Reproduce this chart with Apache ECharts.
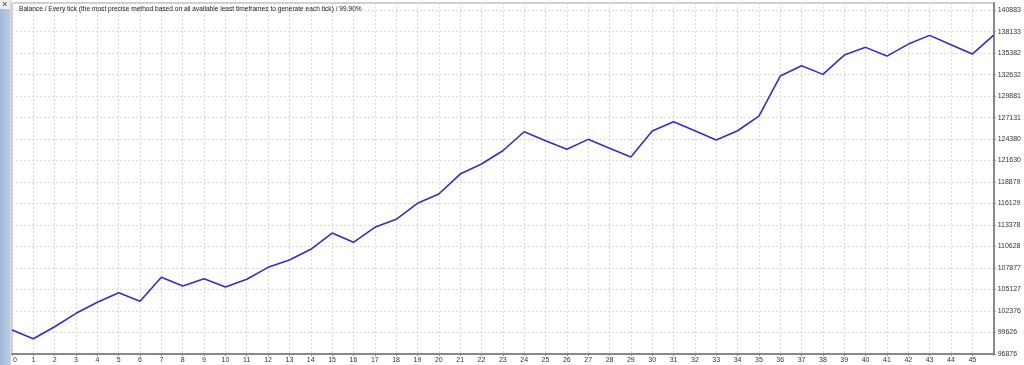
<!DOCTYPE html>
<html>
<head>
<meta charset="utf-8">
<script src="https://cdn.jsdelivr.net/npm/echarts@6/dist/echarts.min.js"></script>
<style>
html,body{margin:0;padding:0;background:#fff;}
#c{width:1024px;height:365px;}
</style>
</head>
<body>
<div id="c"></div>
<script>
// Trade numbers (x categories)
const categories = Array.from({length: 47}, (_, i) => String(i));
// Balance values
const balance = [
  99946, 98833, 100369, 102083, 103490, 104718, 103618, 106688, 105575, 106509,
  105447, 106432, 107967, 108901, 110270, 112356, 111166, 113085, 114108, 116155,
  117345, 119903, 121183, 122884, 125315, 124164, 123064, 124343, 123191, 122078,
  125405, 126594, 125443, 124253, 125443, 127323, 132441, 133759, 132658, 135127,
  136113, 134999, 136534, 137648, 136445, 135255, 137686
];
// Right axis tick labels (bottom to top)
const yTickLabels = [
  '96876', '99626', '102376', '105127', '107877', '110628', '113378', '116129',
  '118879', '121630', '124380', '127131', '129881', '132632', '135382', '138133', '140883'
];
const titleText = 'Balance / Every tick (the most precise method based on all available least timeframes to generate each tick) / 99.90%';

const yMin = Number(yTickLabels[0]);
const yStep = (Number(yTickLabels[yTickLabels.length - 1]) - yMin) / (yTickLabels.length - 1);
const yMax = yMin + yStep * 16.33;

const chart = echarts.init(document.getElementById('c'), null, {renderer: 'canvas'});
const font = 'Liberation Sans, Arial, sans-serif';
chart.setOption({
  animation: false,
  backgroundColor: '#ffffff',
  title: {
    text: titleText,
    left: 14, top: 1,
    textStyle: {fontSize: 6.6, fontWeight: 'normal', color: '#222', fontFamily: font}
  },
  grid: {
    left: 12, right: 28, top: 3, bottom: 11,
    show: true, borderColor: '#9a9a9a', borderWidth: 1, backgroundColor: '#fff'
  },
  graphic: [
    {type: 'rect', shape: {x: 0, y: 0, width: 10, height: 365},
     style: {fill: new echarts.graphic.LinearGradient(0, 0, 1, 0, [
       {offset: 0, color: '#9fb9d8'}, {offset: 1, color: '#b9cde5'}])}, z: 10},
    {type: 'rect', shape: {x: 0, y: 0, width: 10, height: 9}, style: {fill: '#eeeeee'}, z: 11},
    {type: 'text', left: 2, top: 0, style: {text: '×', fontSize: 9, fill: '#333', fontFamily: font}, z: 12},
    {type: 'rect', shape: {x: 10, y: 0, width: 1, height: 365}, style: {fill: '#d8d8d8'}, z: 10}
  ],
  xAxis: {
    type: 'category',
    data: categories,
    boundaryGap: false,
    axisLine: {show: true, lineStyle: {color: '#888', width: 2}},
    axisTick: {show: true, length: 2, lineStyle: {color: '#888'}, interval: 0},
    axisLabel: {
      interval: 0, fontSize: 7, color: '#333', fontFamily: font, margin: 3,
      formatter: (v, i) => (i === categories.length - 1 ? '' : (i === 0 ? '{first|' + v + '}' : v)),
      rich: {first: {fontSize: 7, color: '#333', fontFamily: font, padding: [0, 0, 0, 6]}}
    },
    splitLine: {show: true, interval: 0, lineStyle: {color: '#dcdcdc', type: [2, 2], width: 1}}
  },
  yAxis: {
    type: 'value',
    position: 'right',
    min: yMin, max: yMax, interval: yStep,
    axisLine: {show: true, lineStyle: {color: '#888', width: 2}},
    axisTick: {show: true, length: 2, lineStyle: {color: '#888'}},
    axisLabel: {
      fontSize: 7, color: '#333', fontFamily: font, margin: 4, showMaxLabel: false,
      formatter: v => {
        const i = Math.round((v - yMin) / yStep);
        return i >= 0 && i < yTickLabels.length ? yTickLabels[i] : '';
      }
    },
    splitLine: {show: true, lineStyle: {color: '#dcdcdc', type: [2, 2], width: 1}}
  },
  series: [{
    type: 'line',
    data: balance,
    showSymbol: false,
    lineStyle: {color: '#3030c8', width: 1.6},
    z: 5
  }]
});
</script>
</body>
</html>
